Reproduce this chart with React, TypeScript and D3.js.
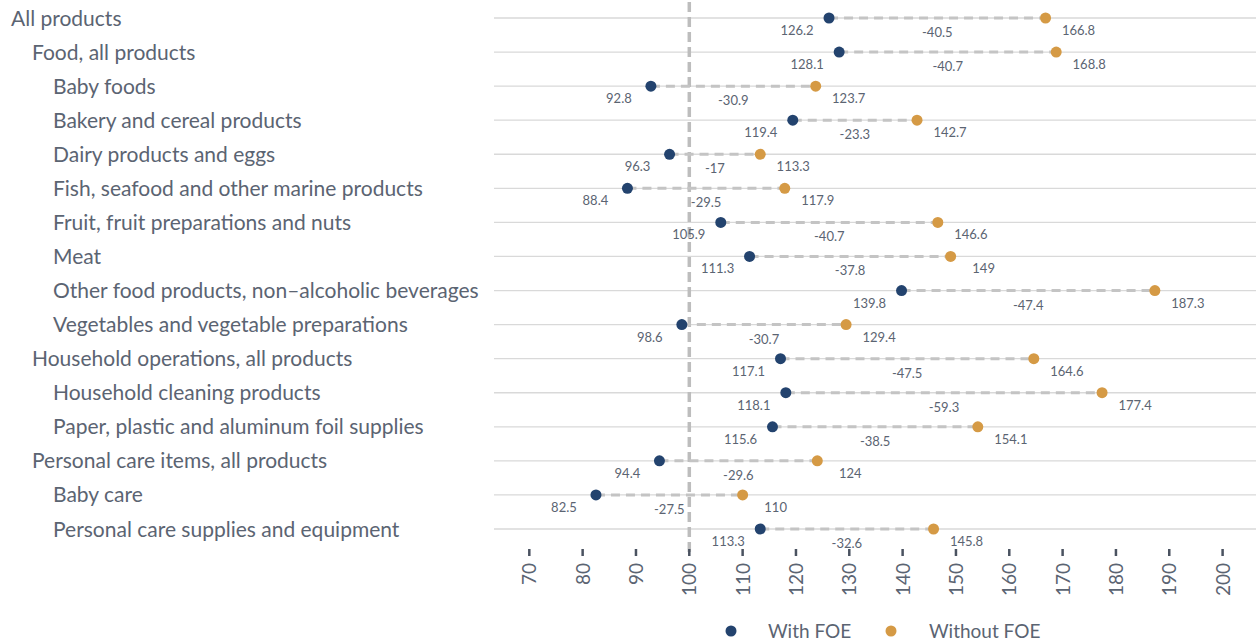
import * as d3 from "d3";
import React from "react";

const categories = [
  "All products",
  "Food, all products",
  "Baby foods",
  "Bakery and cereal products",
  "Dairy products and eggs",
  "Fish, seafood and other marine products",
  "Fruit, fruit preparations and nuts",
  "Meat",
  "Other food products, non\u2013alcoholic beverages",
  "Vegetables and vegetable preparations",
  "Household operations, all products",
  "Household cleaning products",
  "Paper, plastic and aluminum foil supplies",
  "Personal care items, all products",
  "Baby care",
  "Personal care supplies and equipment",
];
const levels = [0, 1, 2, 2, 2, 2, 2, 2, 2, 2, 1, 2, 2, 1, 2, 2];

const withFOE = [126.2, 128.1, 92.8, 119.4, 96.3, 88.4, 105.9, 111.3, 139.8, 98.6, 117.1, 118.1, 115.6, 94.4, 82.5, 113.3];
const withoutFOE = [166.8, 168.8, 123.7, 142.7, 113.3, 117.9, 146.6, 149, 187.3, 129.4, 164.6, 177.4, 154.1, 124, 110, 145.8];
const diffs = [-40.5, -40.7, -30.9, -23.3, -17, -29.5, -40.7, -37.8, -47.4, -30.7, -47.5, -59.3, -38.5, -29.6, -27.5, -32.6];

const ticks = [70, 80, 90, 100, 110, 120, 130, 140, 150, 160, 170, 180, 190, 200];

const W = 1256;
const H = 641;
const NAVY = "#23436e";
const GOLD = "#d59a45";
const TEXT = "#5b6472";
const FONT = "Lato, 'Noto Sans', sans-serif";

const App = () => {
  const x = d3.scaleLinear().domain([100, 200]).range([689.3, 1222.6]);
  const y = d3
    .scalePoint<number>()
    .domain(d3.range(categories.length))
    .range([18, 529]);
  const left = 494;

  return (
    <svg
      width={W}
      height={H}
      style={{ position: "absolute", left: 0, top: 0, fontFamily: FONT }}
    >
      {/* grid lines */}
      {categories.map((c, i) => (
        <line
          key={"g" + i}
          x1={left}
          x2={W}
          y1={y(i)}
          y2={y(i)}
          stroke="#d9d9d9"
          strokeWidth={1.3}
        />
      ))}

      {/* row labels */}
      {categories.map((c, i) => (
        <text
          key={"l" + i}
          x={11 + levels[i] * 21}
          y={y(i)! + 7.5}
          fontSize={21}
          fill={TEXT}
        >
          {c}
        </text>
      ))}

      {/* reference line at 100 */}
      <line
        x1={x(100)}
        x2={x(100)}
        y1={2}
        y2={557}
        stroke="#bdbdbd"
        strokeWidth={3.5}
        strokeDasharray="10,5"
      />

      {/* connectors */}
      {categories.map((c, i) => (
        <line
          key={"c" + i}
          x1={x(withFOE[i])}
          x2={x(withoutFOE[i])}
          y1={y(i)}
          y2={y(i)}
          stroke="#c4c4c4"
          strokeWidth={3}
          strokeDasharray="9,6"
        />
      ))}

      {/* points and labels */}
      {categories.map((c, i) => {
        const yy = y(i)!;
        const a = x(withFOE[i]);
        const b = x(withoutFOE[i]);
        return (
          <g key={"p" + i} fontSize={13} fill={TEXT} textAnchor="middle">
            <circle cx={a} cy={yy} r={5.5} fill={NAVY} />
            <circle cx={b} cy={yy} r={5.5} fill={GOLD} />
            <text x={a - 32} y={yy + 17}>
              {withFOE[i]}
            </text>
            <text x={b + 33} y={yy + 17}>
              {withoutFOE[i]}
            </text>
            <text x={(a + b) / 2} y={yy + 19}>
              {diffs[i]}
            </text>
          </g>
        );
      })}

      {/* x axis */}
      {ticks.map((t) => (
        <g key={"t" + t} transform={`translate(${x(t)},0)`}>
          <line y1={549} y2={556} stroke="#4a5260" strokeWidth={2.5} />
          <text
            transform="translate(7,563) rotate(-90)"
            textAnchor="end"
            fontSize={19}
            fill={TEXT}
          >
            {t}
          </text>
        </g>
      ))}

      {/* legend */}
      <circle cx={731} cy={631} r={5.5} fill={NAVY} />
      <text x={768} y={638} fontSize={19} fill={TEXT}>
        With FOE
      </text>
      <circle cx={891} cy={631} r={5.5} fill={GOLD} />
      <text x={929} y={638} fontSize={19} fill={TEXT}>
        Without FOE
      </text>
    </svg>
  );
};

export default App;
